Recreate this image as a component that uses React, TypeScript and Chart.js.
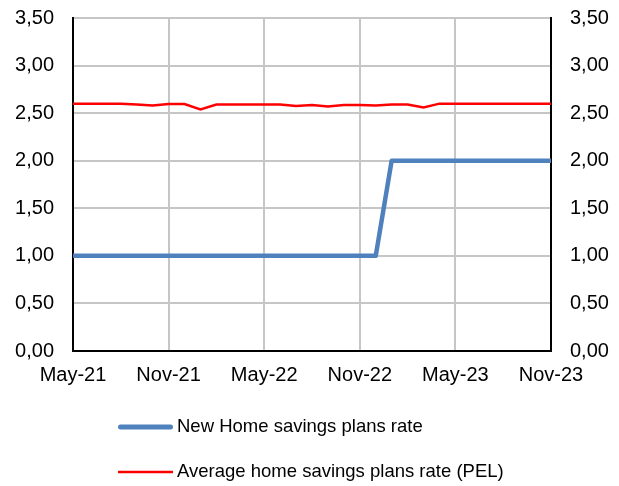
import React, { useEffect, useRef } from 'react';
import { Chart, registerables } from 'chart.js';

Chart.register(...registerables);

const months = [
  'May-21', 'Jun-21', 'Jul-21', 'Aug-21', 'Sep-21', 'Oct-21', 'Nov-21', 'Dec-21',
  'Jan-22', 'Feb-22', 'Mar-22', 'Apr-22', 'May-22', 'Jun-22', 'Jul-22', 'Aug-22',
  'Sep-22', 'Oct-22', 'Nov-22', 'Dec-22', 'Jan-23', 'Feb-23', 'Mar-23', 'Apr-23',
  'May-23', 'Jun-23', 'Jul-23', 'Aug-23', 'Sep-23', 'Oct-23', 'Nov-23',
];

const newPelRate = [
  1.0, 1.0, 1.0, 1.0, 1.0, 1.0, 1.0, 1.0,
  1.0, 1.0, 1.0, 1.0, 1.0, 1.0, 1.0, 1.0,
  1.0, 1.0, 1.0, 1.0, 2.0, 2.0, 2.0, 2.0,
  2.0, 2.0, 2.0, 2.0, 2.0, 2.0, 2.0,
];

const avgPelRate = [
  2.6, 2.6, 2.6, 2.6, 2.59, 2.58, 2.595, 2.595,
  2.54, 2.59, 2.59, 2.59, 2.59, 2.59, 2.575, 2.585,
  2.57, 2.585, 2.585, 2.58, 2.59, 2.59, 2.56, 2.6,
  2.6, 2.6, 2.6, 2.6, 2.6, 2.6, 2.6,
];

const seriesLabels = ['New Home savings plans rate', 'Average home savings plans rate (PEL)'];

const FONT = "'Liberation Sans', Arial, sans-serif";
const GRID = '#c6c6c6';

const customLegend = {
  id: 'customLegend',
  afterDraw(chart: any) {
    const ctx = chart.ctx;
    const rows = [427, 472];
    ctx.save();
    chart.data.datasets.forEach((ds: any, i: number) => {
      const y = rows[i];
      ctx.beginPath();
      ctx.strokeStyle = ds.borderColor;
      ctx.lineWidth = ds.legendLineWidth;
      ctx.lineCap = ds.legendCap;
      const pad = ds.legendCap === 'round' ? ds.legendLineWidth / 2 : 0;
      ctx.moveTo(118 + pad, y);
      ctx.lineTo(173 - pad, y);
      ctx.stroke();
      ctx.fillStyle = '#000';
      ctx.font = `18.5px ${FONT}`;
      ctx.textBaseline = 'middle';
      ctx.textAlign = 'left';
      ctx.fillText(ds.label, 177, y);
    });
    ctx.restore();
  },
};

const fmt = (v: any) => Number(v).toFixed(2).replace('.', ',');

const fitY = (w: number) => (s: any) => {
  s.width = w;
  s.paddingTop = 0;
  s.paddingBottom = 0;
};

export default function App() {
  const ref = useRef<HTMLCanvasElement | null>(null);

  useEffect(() => {
    if (!ref.current) return;
    Chart.defaults.color = '#000';
    const chart = new Chart(ref.current, {
      type: 'line',
      data: {
        labels: months,
        datasets: [
          {
            label: seriesLabels[0],
            data: newPelRate,
            borderColor: '#4f81bd',
            backgroundColor: '#4f81bd',
            borderWidth: 4.5,
            pointRadius: 0,
            tension: 0,
            borderJoinStyle: 'round',
            legendLineWidth: 5,
            legendCap: 'round',
          } as any,
          {
            label: seriesLabels[1],
            data: avgPelRate,
            borderColor: '#ff0000',
            backgroundColor: '#ff0000',
            borderWidth: 2.5,
            pointRadius: 0,
            tension: 0,
            legendLineWidth: 2.5,
            legendCap: 'butt',
          } as any,
        ],
      },
      options: {
        animation: false,
        responsive: false,
        maintainAspectRatio: false,
        layout: { padding: { top: 18, left: 0, right: 0, bottom: 0 } },
        plugins: {
          legend: { display: false },
          tooltip: { enabled: false },
        },
        scales: {
          x: {
            type: 'category',
            offset: false,
            grid: {
              color: (c: any) => (c.index % 6 === 0 ? GRID : 'rgba(0,0,0,0)'),
              lineWidth: 2,
              drawTicks: false,
            },
            border: { display: true, color: '#000', width: 2 },
            ticks: {
              autoSkip: false,
              maxRotation: 0,
              minRotation: 0,
              padding: 12,
              color: '#000',
              font: { size: 20, family: FONT },
              callback: (_v: any, i: number) => (i % 6 === 0 ? months[i] : ''),
            },
            afterFit: (s: any) => {
              s.height = 135;
              s.paddingLeft = 0;
              s.paddingRight = 0;
            },
          },
          y: {
            position: 'left',
            min: 0,
            max: 3.5,
            grid: { color: GRID, lineWidth: 2, drawTicks: false },
            border: { display: true, color: '#000', width: 2 },
            ticks: {
              stepSize: 0.5,
              padding: 19,
              color: '#000',
              font: { size: 20, family: FONT },
              callback: fmt,
            },
            afterFit: fitY(73),
          },
          y1: {
            position: 'right',
            min: 0,
            max: 3.5,
            grid: { display: false, drawTicks: false },
            border: { display: true, color: '#000', width: 2 },
            ticks: {
              stepSize: 0.5,
              padding: 19,
              color: '#000',
              font: { size: 20, family: FONT },
              callback: fmt,
            },
            afterFit: fitY(68),
          },
        },
      } as any,
      plugins: [customLegend],
    });
    return () => chart.destroy();
  }, []);

  return (
    <div style={{ position: 'absolute', left: 0, top: 0, width: 619, height: 486, background: '#fff' }}>
      <canvas ref={ref} width={619} height={486} style={{ display: 'block', width: 619, height: 486 }} />
    </div>
  );
}
